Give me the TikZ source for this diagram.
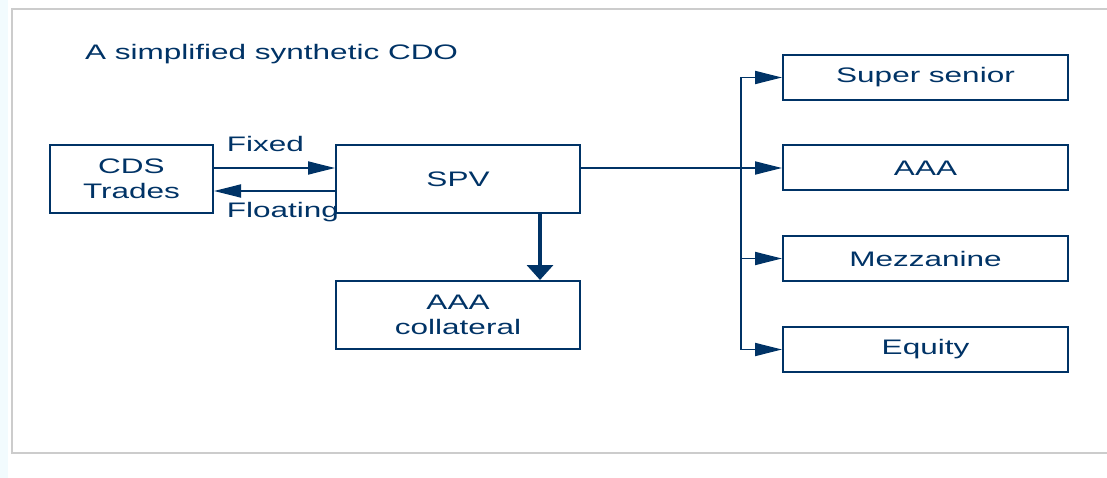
\documentclass[tikz,border=0pt]{standalone}
\usepackage{fontspec}
\setmainfont{Liberation Sans}[FakeStretch=1.5]
\usetikzlibrary{arrows.meta}
\definecolor{cdoblue}{RGB}{0,51,102}
\tikzset{
  box/.style={draw=cdoblue, line width=2pt, text=cdoblue, inner sep=0pt, align=center},
  flow/.style={draw=cdoblue, line width=1.8pt, -{Triangle[length=27pt,width=13pt]}},
  lbl/.style={text=cdoblue, inner sep=0pt}
}
\begin{document}
\begin{tikzpicture}[x=1pt, y=-1pt, font=\fontsize{21}{25}\selectfont]
        \useasboundingbox (0,0) rectangle (1107,478);
        \fill[white] (0,0) rectangle (1107,478);
        \fill[cyan!5] (0,0) rectangle (8,478);
        \draw[gray!40, line width=2pt] (11.5,454) -- (11.5,9.5) -- (1115,9.5);
        \draw[gray!40, line width=2pt] (11.5,453) -- (1115,453);
        \node[lbl, anchor=base west] (title) at (85,60) {A simplified synthetic CDO};
        \node[box, minimum width=163pt, minimum height=68pt] (cds) at (131.5,179) {CDS\\Trades};
        \node[box, minimum width=244pt, minimum height=68pt, right of=cds, node distance=326.5] (spv) {SPV};
        \node[box, minimum width=244pt, minimum height=68pt, below of=spv, node distance=136] (coll) {AAA\\collateral};
        \node[box, minimum width=285pt, minimum height=45pt] (aaa) at (925.5,168) {AAA};
        \node[box, minimum width=285pt, minimum height=45pt, above of=aaa, node distance=90.5] (ss) {Super senior};
        \node[box, minimum width=285pt, minimum height=45pt, below of=aaa, node distance=90.5] (mezz) {Mezzanine};
        \node[box, minimum width=285pt, minimum height=45pt, below of=mezz, node distance=91] (eq) {Equity};
        \draw[flow] ([yshift=11pt]cds.east) -- ([yshift=11pt]cds.east -| spv.west)
          node[lbl, pos=0, anchor=base west, xshift=12pt, yshift=16pt] (fixed) {Fixed};
        \draw[flow] ([yshift=-12pt]spv.west) -- ([yshift=-12pt]spv.west -| cds.east)
          node[lbl, pos=1, anchor=base west, xshift=12pt, yshift=-27pt] (floating) {Floating};
        \draw[draw=cdoblue, line width=3.5pt, -{Triangle[length=15pt,width=26pt]}]
          ([xshift=82pt]spv.south) -- ([xshift=82pt]coll.north);
        \coordinate (bus) at (741,0);
        \draw[draw=cdoblue, line width=2pt] (bus |- ss.west) -- (bus |- eq.west);
        \draw[flow] (spv.east |- aaa.west) -- (aaa.west);
        \foreach \t in {ss,mezz,eq}
          \draw[flow] (bus |- \t.west) -- (\t.west);
      \end{tikzpicture}
\end{document}
